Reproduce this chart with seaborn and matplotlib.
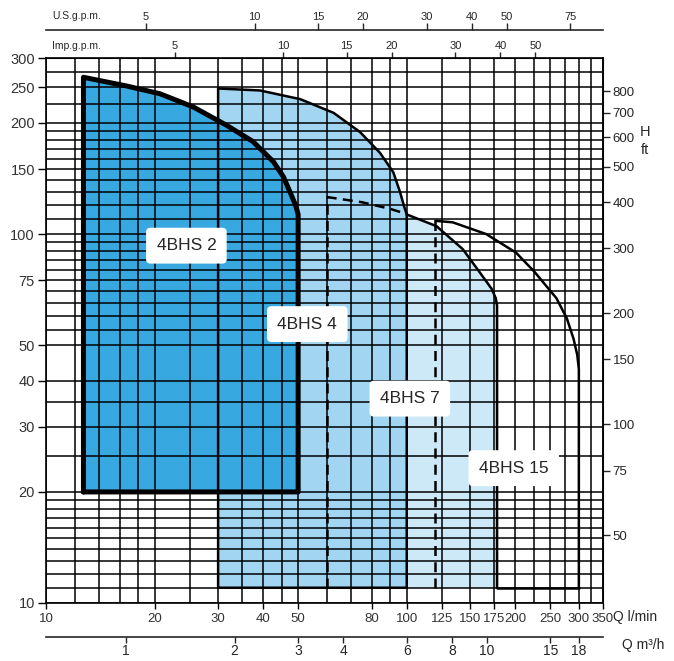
import numpy as np
import pandas as pd
import matplotlib.pyplot as plt
import matplotlib.ticker as mticker
import seaborn as sns

# pump ranges, Q in l/min, H in m
bhs2_q = [12.7, 16.7, 20.7, 25.6, 31.7, 37.5, 42.7, 45.5, 47.8, 49.3, 50]
bhs2_h = [266, 252, 240, 221, 197, 178, 157, 143, 128, 119, 113]
bhs2_base = 20

bhs4_q = [30, 39.2, 50.7, 62.7, 74.2, 84.3, 91.8, 95.8, 98.3, 100]
bhs4_h = [248, 245, 232, 213, 189, 166, 147, 130, 119, 113]

bhs7_dash_q = [60, 75, 90, 98]
bhs7_dash_h = [126, 122, 117, 114]
bhs7_q = [100, 121, 143, 162, 172, 176.5, 178]
bhs7_h = [113, 105, 91, 77, 71, 67, 64]

bhs15_q = [120, 134, 166, 201, 226, 260, 278, 290, 297, 300]
bhs15_h = [108.6, 107.6, 100, 89, 79, 67, 59, 52, 47, 43]
base_h = 11

names = ["4BHS 2", "4BHS 4", "4BHS 7", "4BHS 15"]
name_q = [24.5, 53, 102, 198]
name_h = [93, 57, 35.8, 23.2]

grid_q = [12, 14, 16, 18, 20, 25, 30, 35, 40, 45, 50, 60, 70, 80, 90, 100,
          125, 150, 175, 200, 225, 250, 275, 300, 325]
grid_h = [11, 12, 13, 14, 15, 16, 17, 18, 19, 20, 25, 30, 35, 40, 50, 55, 60,
          65, 70, 75, 80, 85, 90, 95, 100, 110, 120, 130, 140, 150, 160, 170,
          180, 190, 200, 225, 250, 275]
q_ticks = [10, 20, 30, 40, 50, 80, 100, 125, 150, 175, 200, 250, 300, 350]
h_ticks = [10, 20, 30, 40, 50, 75, 100, 150, 200, 250, 300]
ft_ticks = [50, 75, 100, 150, 200, 300, 400, 500, 600, 700, 800]
m3h_ticks = [1, 2, 3, 4, 6, 8, 10, 15, 18]
us_ticks = [5, 10, 15, 20, 30, 40, 50, 75]
imp_ticks = [5, 10, 15, 20, 30, 40, 50]

sns.set_style("white")
plt.rcParams['font.family'] = ['Liberation Sans Narrow', 'Liberation Sans', 'DejaVu Sans']

W, H = 674, 661
fig = plt.figure(figsize=(W / 100, H / 100), dpi=100)
ax = fig.add_axes([46 / W, 58 / H, 557 / W, 545 / H])
ax.set_xscale('log')
ax.set_yscale('log')


def region(q, h, base):
    # closed outline: left edge, curve, right edge, bottom
    qq = [q[0]] + list(q) + [q[-1], q[0]]
    hh = [base] + list(h) + [base, base]
    return qq, hh


# fills, back to front
q7, h7 = region(bhs7_dash_q + bhs7_q, bhs7_dash_h + bhs7_h, base_h)
ax.fill(q7, h7, color="#CDE9F8", lw=0, zorder=1)
q4, h4 = region(bhs4_q, bhs4_h, base_h)
ax.fill(q4, h4, color="#A2D5F1", lw=0, zorder=1)
q2, h2 = region(bhs2_q, bhs2_h, bhs2_base)
ax.fill(q2, h2, color="#38A8E0", lw=0, zorder=1)

line_kw = dict(sort=False, estimator=None, color="black", ax=ax, zorder=3)
dash = (0, (4, 2.5))

# 4BHS 15
sns.lineplot(x=[bhs15_q[0], bhs15_q[0]], y=[base_h, bhs15_h[0]], lw=1.8, ls=dash, **line_kw)
sns.lineplot(x=bhs15_q + [bhs15_q[-1]], y=bhs15_h + [base_h], lw=1.8, **line_kw)
sns.lineplot(x=[bhs7_q[-1], bhs15_q[-1]], y=[base_h, base_h], lw=1.8, **line_kw)
# 4BHS 7
sns.lineplot(x=bhs7_dash_q + [bhs7_q[0]], y=bhs7_dash_h + [bhs7_h[0]], lw=1.8, ls=dash, **line_kw)
sns.lineplot(x=[bhs7_dash_q[0], bhs7_dash_q[0]], y=[base_h, bhs7_dash_h[0]], lw=1.8, ls=dash, **line_kw)
sns.lineplot(x=bhs7_q + [bhs7_q[-1]], y=bhs7_h + [base_h], lw=1.8, **line_kw)
# 4BHS 4
sns.lineplot(x=q4, y=h4, lw=1.8, **line_kw)
# 4BHS 2
sns.lineplot(x=q2, y=h2, lw=3.6, **line_kw)

for n, xq, yh in zip(names, name_q, name_h):
    ax.text(xq, yh, n, ha='center', va='center', fontsize=12.5, family=['Liberation Sans', 'DejaVu Sans'],
            zorder=5, bbox=dict(boxstyle="round,pad=0.6,rounding_size=0.25", fc="white", ec="none"))

ax.set_xlim(10, 350)
ax.set_ylim(10, 300)
ax.set_xlabel("")
ax.set_ylabel("")

ax.set_xticks(q_ticks, labels=[str(v) for v in q_ticks])
ax.set_xticks(grid_q, minor=True)
ax.set_yticks(h_ticks, labels=[str(v) for v in h_ticks])
ax.set_yticks(grid_h, minor=True)
ax.xaxis.set_minor_formatter(mticker.NullFormatter())
ax.yaxis.set_minor_formatter(mticker.NullFormatter())
ax.grid(True, which='both', color='black', lw=1.1)
ax.set_axisbelow(False)
for s in ax.spines.values():
    s.set_color('black')
    s.set_linewidth(1.2)
ax.tick_params(axis='both', which='minor', length=0)
ax.tick_params(axis='y', which='major', left=True, direction='out', length=6, width=1,
               pad=2, labelsize=10.5, colors='black')
ax.tick_params(axis='x', which='major', bottom=True, direction='out', length=4, width=1,
               pad=3, labelsize=9.5, colors='black')
for lab in ax.get_yticklabels() + ax.get_xticklabels():
    lab.set_color('#333333')

# H in ft on the right
ft = ax.secondary_yaxis('right', functions=(lambda h: h / 0.3048, lambda f: f * 0.3048))
ft.set_yticks(ft_ticks, labels=[str(v) for v in ft_ticks])
ft.yaxis.set_minor_locator(mticker.NullLocator())
ft.tick_params(axis='y', right=True, direction='out', length=5, width=1, pad=2, labelsize=9.5)

# Q in m3/h under the chart
m3 = ax.secondary_xaxis(-0.062, functions=(lambda q: q * 0.06, lambda m: m / 0.06))
m3.set_xticks(m3h_ticks, labels=[str(v) for v in m3h_ticks])
m3.xaxis.set_minor_locator(mticker.NullLocator())
m3.tick_params(axis='x', bottom=True, direction='out', length=4, width=1, pad=1, labelsize=10)
m3.spines['bottom'].set_linewidth(1.2)

# g.p.m. scales on top
imp = ax.secondary_xaxis('top', functions=(lambda q: q / 4.546, lambda g: g * 4.546))
imp.set_xticks(imp_ticks, labels=[str(v) for v in imp_ticks])
imp.xaxis.set_minor_locator(mticker.NullLocator())
imp.tick_params(axis='x', top=True, direction='out', length=4.5, width=1, pad=0.5, labelsize=8)

us = ax.secondary_xaxis(1.052, functions=(lambda q: q / 3.785, lambda g: g * 3.785))
us.set_xticks(us_ticks, labels=[str(v) for v in us_ticks])
us.xaxis.set_minor_locator(mticker.NullLocator())
us.tick_params(axis='x', top=True, direction='out', length=5, width=1, pad=0.5, labelsize=8)
us.spines['top'].set_linewidth(1.2)

fig.text(52 / W, 1 - 16 / H, "U.S.g.p.m.", fontsize=7.5, va='center', ha='left')
fig.text(52 / W, 1 - 46 / H, "Imp.g.p.m.", fontsize=7.5, va='center', ha='left')
fig.text(645 / W, 1 - 132 / H, "H", fontsize=10.5, va='center', ha='center')
fig.text(645 / W, 1 - 150 / H, "ft", fontsize=10.5, va='center', ha='center')
fig.text(613 / W, 1 - 617 / H, "Q l/min", fontsize=10, va='center', ha='left')
fig.text(622 / W, 1 - 645 / H, "Q m³/h", fontsize=10, va='center', ha='left')

fig.savefig("out.png", dpi=100, facecolor='white')
